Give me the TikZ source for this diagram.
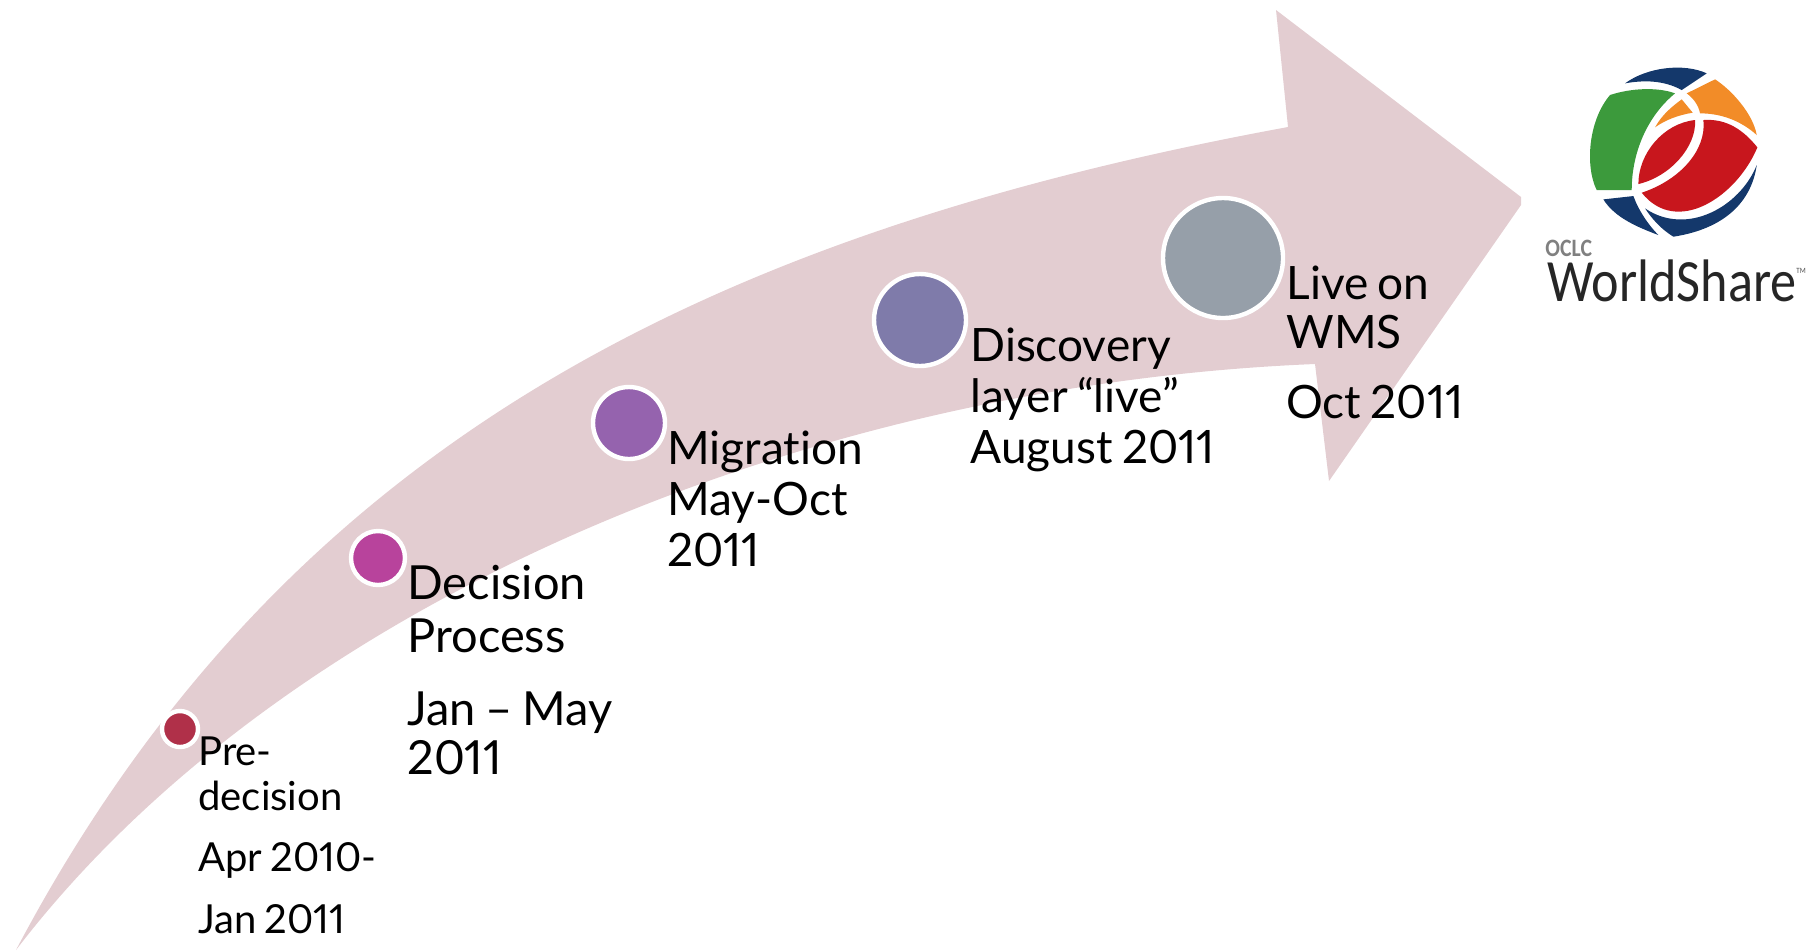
\documentclass[tikz,border=0pt]{standalone}
\usepackage{fontspec}
\setmainfont[Numbers=Proportional,Ligatures={TeX,NoCommon},WordSpace=0.8]{Lato}
\newfontfamily\logofont[FakeStretch=0.87]{Carlito}
\usepackage{xcolor}
\definecolor{arrowpink}{HTML}{E3CDD1}
\definecolor{stepa}{HTML}{B03049}
\definecolor{stepb}{HTML}{B8439C}
\definecolor{stepc}{HTML}{9563AE}
\definecolor{stepd}{HTML}{7F7BAA}
\definecolor{stepe}{HTML}{969FA9}
\definecolor{logogreen}{HTML}{3C9A3C}
\definecolor{logoorange}{HTML}{F28C28}
\definecolor{logored}{HTML}{C8161D}
\definecolor{logonavy}{HTML}{14386B}
\tikzset{
	x=0.5pt,y=-0.5pt,
	dot/.style={circle,draw=white,line width=2.2pt,inner sep=0pt},
	steptext/.style={anchor=north west,align=left,inner sep=0pt,font=\fontsize{23}{25.5}\selectfont},
	smalltext/.style={steptext,font=\fontsize{20}{22.5}\selectfont},
	bigtext/.style={steptext,font=\fontsize{23.5}{26.5}\selectfont}
}
\begin{document}
\begin{tikzpicture}
	\useasboundingbox (0,0) rectangle (1807,950);

	\fill[arrowpink] (16,950) .. controls (280,450) and (700,235) .. (1288,127)
		-- (1276,10) -- (1521,197) -- (1521,205) -- (1329,481) -- (1315,364)
		.. controls (800,385) and (280,605) .. cycle;

	\node[dot,fill=stepa,minimum size=18pt] (pre) at (180,729) {};
	\node[dot,fill=stepb,minimum size=27pt] (decision) at (378,558) {};
	\node[dot,fill=stepc,minimum size=36pt] (migration) at (629,423) {};
	\node[dot,fill=stepd,minimum size=46pt] (discovery) at (920,320) {};
	\node[dot,fill=stepe,minimum size=60pt] (live) at (1223,258) {};

	\node[smalltext] (pretext) at (198,736) {Pre-\\decision\\[8pt]Apr 2010-\\[8.5pt]Jan 2011};
	\node[bigtext] (decisiontext) at (407,565) {Decision\\Process\\[10pt]Jan -- May\\[-2pt]2011};
	\node[steptext] (migrationtext) at (667,431) {Migration\\May-Oct\\2011};
	\node[steptext] (discoverytext) at (970,328) {Discovery\\layer ``live''\\August 2011};
	\node[steptext] (livetext) at (1286,266) {Live on\\[-1pt]WMS\\[9.5pt]Oct 2011};

	% logo
	\begin{scope}[shift={(1500,40)},x=0.1667pt,y=-0.1667pt]
	\fill[logonavy] (375,130) .. controls (440,82) and (550,68) .. (620,100)
		-- (545,150) .. controls (490,120) and (430,120) .. cycle;
	\fill[logogreen] (330,165) .. controls (390,145) and (470,140) .. (525,160)
		.. controls (440,230) and (395,340) .. (395,450)
		-- (290,450) .. controls (255,380) and (264,242) .. cycle;
	\fill[logoorange] (560,160) -- (645,118) .. controls (695,150) and (759,222) .. (770,285)
		.. controls (720,240) and (660,220) .. (600,220)
		.. controls (595,195) and (580,175) .. cycle;
	\fill[logoorange] (465,262) .. controls (485,225) and (515,200) .. (545,178)
		-- (578,218) .. controls (535,225) and (495,240) .. cycle;
	\fill[logored] (415,432) .. controls (415,340) and (490,250) .. (585,240)
		.. controls (590,320) and (510,410) .. cycle;
	\fill[logored] (610,240) .. controls (680,235) and (730,270) .. (772,322)
		.. controls (710,470) and (530,590) .. (425,458)
		.. controls (540,420) and (620,330) .. cycle;
	\fill[logonavy] (310,478) -- (400,468) .. controls (415,510) and (445,555) .. (475,585)
		.. controls (420,564) and (345,535) .. cycle;
	\fill[logonavy] (435,505) .. controls (560,590) and (720,500) .. (770,375)
		.. controls (755,480) and (680,565) .. (520,590)
		.. controls (480,565) and (455,535) .. cycle;
	\end{scope}

	\node[anchor=base west,inner sep=0pt,text=gray,font=\logofont\bfseries\fontsize{12.5}{12.5}\selectfont] (oclc) at (1545,256) {OCLC};
	\node[anchor=base west,inner sep=0pt,text=black!85,font=\logofont\fontsize{30}{30}\selectfont] (worldshare) at (1547,301) {WorldShare};
	\node[anchor=base west,inner sep=0pt,text=black!70,font=\logofont\fontsize{4}{4}\selectfont] (tm) at (1796,273) {TM};
\end{tikzpicture}
\end{document}
